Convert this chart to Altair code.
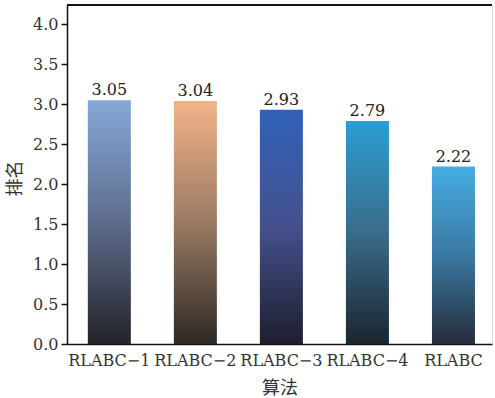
import altair as alt
import pandas as pd

# Average rank of each algorithm
algorithms = ["RLABC−1", "RLABC−2", "RLABC−3", "RLABC−4", "RLABC"]
ranks = [3.05, 3.04, 2.93, 2.79, 2.22]

# Vertical gradient per bar: top, middle, bottom colour
top_colors = ["#86a8d8", "#f3b388", "#2f62b7", "#2a9ed4", "#45ade3"]
mid_colors = ["#5d6c8c", "#9a7a64", "#45508d", "#3a6c89", "#3a78a3"]
bottom_colors = ["#232328", "#2d2924", "#1c1e2e", "#1a252e", "#252c39"]

df = pd.DataFrame({"算法": algorithms, "排名": ranks})

SERIF = "DejaVu Serif"
CJK = "Noto Sans CJK SC"
W, H = 425, 339

x_enc = alt.X(
    "算法:N",
    sort=algorithms,
    scale=alt.Scale(domain=algorithms, paddingInner=0.5, paddingOuter=0.22, align=0.55),
    axis=alt.Axis(
        labelAngle=0,
        ticks=False,
        labelPadding=8,
        labelFont=SERIF,
        labelFontSize=16,
        labelColor="#333333",
        domainColor="#111111",
        domainWidth=1.5,
        title="算法",
        titleFont=CJK,
        titleFontSize=18,
        titleFontWeight="normal",
        titleColor="#333333",
        titleBaseline="middle",
        titleY=44,
    ),
)

y_enc = alt.Y(
    "排名:Q",
    scale=alt.Scale(domain=[0, 4.24], nice=False),
    axis=alt.Axis(
        values=[0, 0.5, 1, 1.5, 2, 2.5, 3, 3.5, 4],
        format=".1f",
        grid=False,
        tickSize=6,
        tickColor="#111111",
        tickWidth=1.5,
        labelPadding=3,
        labelFont=SERIF,
        labelFontSize=16,
        labelColor="#333333",
        domainColor="#111111",
        domainWidth=1.5,
        title="排名",
        titleFont=CJK,
        titleFontSize=18,
        titleFontWeight="normal",
        titleColor="#333333",
        titleBaseline="middle",
        titleAngle=-90,
        titleX=-52,
        titleY=173,
    ),
)

layers = []
for name, c0, c1, c2 in zip(algorithms, top_colors, mid_colors, bottom_colors):
    grad = alt.Gradient(
        gradient="linear",
        x1=0, x2=0, y1=0, y2=1,
        stops=[
            alt.GradientStop(color=c0, offset=0),
            alt.GradientStop(color=c1, offset=0.5),
            alt.GradientStop(color=c2, offset=1),
        ],
    )
    layers.append(
        alt.Chart(df)
        .transform_filter(alt.datum["算法"] == name)
        .mark_bar(color=grad)
        .encode(x=x_enc, y=y_enc)
    )

labels = (
    alt.Chart(df)
    .mark_text(baseline="bottom", dy=-2, font=SERIF, fontSize=16, color="#222222")
    .encode(x=x_enc, y=y_enc, text=alt.Text("排名:Q", format=".2f"))
)

# Heavy top edge of the frame
top_edge = alt.Chart(df).mark_rule(color="#111111", strokeWidth=2).encode(
    x=alt.value(0), x2=alt.value(W), y=alt.value(0)
)

chart = (
    alt.layer(*layers, labels, top_edge)
    .properties(
        width=W,
        height=H,
        autosize=alt.AutoSizeParams(type="none"),
        padding={"left": 67, "top": 5, "right": 3, "bottom": 54},
        background="white",
    )
    .configure_view(stroke="#dddddd", strokeWidth=1)
)

chart.save("out.html", embed_options={"renderer": "svg", "actions": False})
